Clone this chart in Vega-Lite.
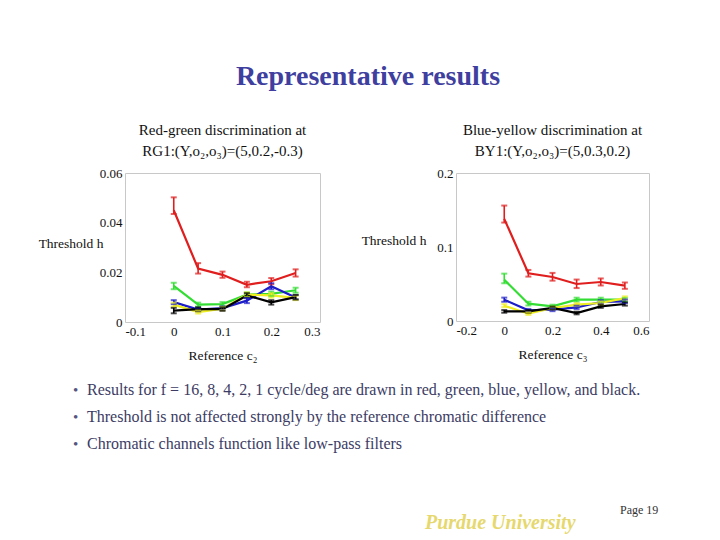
{
  "$schema": "https://vega.github.io/schema/vega-lite/v6.json",
  "background": "white",
  "padding": {"left": 30, "top": 62, "right": 5, "bottom": 5},
  "title": {"text": "Representative results", "font": "Liberation Serif", "fontSize": 28, "fontWeight": "bold", "color": "#3f3f9f", "anchor": "middle", "offset": 32, "dx": 10},
  "config": {
    "view": {"stroke": "#c8c8c8"},
    "font": "Liberation Serif",
    "axis": {"labelFont": "Liberation Serif", "labelFontSize": 13, "labelColor": "#111111", "titleFont": "Liberation Serif", "titleFontWeight": "normal", "titleFontSize": 13.5, "titleColor": "#111111", "domain": false, "ticks": false, "grid": false, "labelPadding": 3, "labelExpr": "replace(datum.label, '−', '-')"},
    "title": {"font": "Liberation Serif", "fontWeight": "normal", "fontSize": 15, "color": "#111111", "lineHeight": 21, "offset": 8},
    "concat": {"spacing": 12}
  },
  "datasets": {
    "rg": [
      {"f": "16", "c": 0, "h": 0.045, "lo": 0.0435, "hi": 0.0502},
      {"f": "16", "c": 0.05, "h": 0.0215, "lo": 0.0195, "hi": 0.0237},
      {"f": "16", "c": 0.1, "h": 0.019, "lo": 0.0178, "hi": 0.0203},
      {"f": "16", "c": 0.15, "h": 0.015, "lo": 0.014, "hi": 0.0162},
      {"f": "16", "c": 0.2, "h": 0.0164, "lo": 0.0152, "hi": 0.0177},
      {"f": "16", "c": 0.25, "h": 0.0197, "lo": 0.0183, "hi": 0.0212},
      {"f": "8", "c": 0, "h": 0.0145, "lo": 0.0132, "hi": 0.0158},
      {"f": "8", "c": 0.05, "h": 0.007, "lo": 0.0062, "hi": 0.0078},
      {"f": "8", "c": 0.1, "h": 0.0072, "lo": 0.0064, "hi": 0.008},
      {"f": "8", "c": 0.15, "h": 0.011, "lo": 0.0101, "hi": 0.0119},
      {"f": "8", "c": 0.2, "h": 0.0113, "lo": 0.0104, "hi": 0.0122},
      {"f": "8", "c": 0.25, "h": 0.0128, "lo": 0.0118, "hi": 0.0138},
      {"f": "4", "c": 0, "h": 0.008, "lo": 0.0072, "hi": 0.0088},
      {"f": "4", "c": 0.05, "h": 0.005, "lo": 0.0043, "hi": 0.0057},
      {"f": "4", "c": 0.1, "h": 0.0056, "lo": 0.0049, "hi": 0.0063},
      {"f": "4", "c": 0.15, "h": 0.0086, "lo": 0.0076, "hi": 0.0096},
      {"f": "4", "c": 0.2, "h": 0.0144, "lo": 0.0132, "hi": 0.0156},
      {"f": "4", "c": 0.25, "h": 0.0099, "lo": 0.009, "hi": 0.0108},
      {"f": "2", "c": 0, "h": 0.007, "lo": 0.0062, "hi": 0.0078},
      {"f": "2", "c": 0.05, "h": 0.004, "lo": 0.0034, "hi": 0.0046},
      {"f": "2", "c": 0.1, "h": 0.0054, "lo": 0.0047, "hi": 0.0061},
      {"f": "2", "c": 0.15, "h": 0.011, "lo": 0.0101, "hi": 0.0119},
      {"f": "2", "c": 0.2, "h": 0.0107, "lo": 0.0098, "hi": 0.0116},
      {"f": "2", "c": 0.25, "h": 0.0097, "lo": 0.0088, "hi": 0.0106},
      {"f": "1", "c": 0, "h": 0.0046, "lo": 0.0035, "hi": 0.0057},
      {"f": "1", "c": 0.05, "h": 0.0052, "lo": 0.0045, "hi": 0.0059},
      {"f": "1", "c": 0.1, "h": 0.0052, "lo": 0.0045, "hi": 0.0059},
      {"f": "1", "c": 0.15, "h": 0.0107, "lo": 0.0098, "hi": 0.0116},
      {"f": "1", "c": 0.2, "h": 0.0079, "lo": 0.007, "hi": 0.0088},
      {"f": "1", "c": 0.25, "h": 0.01, "lo": 0.0091, "hi": 0.0109}
    ],
    "by": [
      {"f": "16", "c": 0, "h": 0.138, "lo": 0.133, "hi": 0.156},
      {"f": "16", "c": 0.1, "h": 0.0645, "lo": 0.06, "hi": 0.069},
      {"f": "16", "c": 0.2, "h": 0.0595, "lo": 0.0545, "hi": 0.065},
      {"f": "16", "c": 0.3, "h": 0.05, "lo": 0.0445, "hi": 0.056},
      {"f": "16", "c": 0.4, "h": 0.0527, "lo": 0.048, "hi": 0.0575},
      {"f": "16", "c": 0.5, "h": 0.0477, "lo": 0.0435, "hi": 0.052},
      {"f": "8", "c": 0, "h": 0.0558, "lo": 0.051, "hi": 0.064},
      {"f": "8", "c": 0.1, "h": 0.0234, "lo": 0.021, "hi": 0.026},
      {"f": "8", "c": 0.2, "h": 0.0198, "lo": 0.0175, "hi": 0.022},
      {"f": "8", "c": 0.3, "h": 0.0288, "lo": 0.0262, "hi": 0.0315},
      {"f": "8", "c": 0.4, "h": 0.0288, "lo": 0.0262, "hi": 0.0315},
      {"f": "8", "c": 0.5, "h": 0.0288, "lo": 0.0262, "hi": 0.0315},
      {"f": "4", "c": 0, "h": 0.0288, "lo": 0.026, "hi": 0.0316},
      {"f": "4", "c": 0.1, "h": 0.0144, "lo": 0.0125, "hi": 0.0163},
      {"f": "4", "c": 0.2, "h": 0.0153, "lo": 0.0133, "hi": 0.0173},
      {"f": "4", "c": 0.3, "h": 0.0185, "lo": 0.0163, "hi": 0.0207},
      {"f": "4", "c": 0.4, "h": 0.0257, "lo": 0.0233, "hi": 0.0281},
      {"f": "4", "c": 0.5, "h": 0.0266, "lo": 0.0242, "hi": 0.029},
      {"f": "2", "c": 0, "h": 0.0207, "lo": 0.0187, "hi": 0.0227},
      {"f": "2", "c": 0.1, "h": 0.0099, "lo": 0.0082, "hi": 0.0116},
      {"f": "2", "c": 0.2, "h": 0.0176, "lo": 0.0158, "hi": 0.0194},
      {"f": "2", "c": 0.3, "h": 0.0221, "lo": 0.0201, "hi": 0.0241},
      {"f": "2", "c": 0.4, "h": 0.0243, "lo": 0.0222, "hi": 0.0264},
      {"f": "2", "c": 0.5, "h": 0.031, "lo": 0.0287, "hi": 0.0333},
      {"f": "1", "c": 0, "h": 0.013, "lo": 0.0112, "hi": 0.0148},
      {"f": "1", "c": 0.1, "h": 0.013, "lo": 0.0112, "hi": 0.0148},
      {"f": "1", "c": 0.2, "h": 0.0176, "lo": 0.0158, "hi": 0.0194},
      {"f": "1", "c": 0.3, "h": 0.0108, "lo": 0.009, "hi": 0.0126},
      {"f": "1", "c": 0.4, "h": 0.0198, "lo": 0.0178, "hi": 0.0218},
      {"f": "1", "c": 0.5, "h": 0.023, "lo": 0.0208, "hi": 0.0252}
    ],
    "bullets": [
      {"n": 1, "text": "Results for f = 16, 8, 4, 2, 1 cycle/deg are drawn in red, green, blue, yellow, and black."},
      {"n": 2, "text": "Threshold is not affected strongly by the reference chromatic difference"},
      {"n": 3, "text": "Chromatic channels function like low-pass filters"}
    ],
    "footer": [
      {"item": "org", "text": "Purdue University"},
      {"item": "page", "text": "Page 19"}
    ]
  },
  "vconcat": [
    {
      "hconcat": [
        {
          "width": 195,
          "height": 149,
          "title": {"text": ["Red-green discrimination at", "RG1:(Y,o₂,o₃)=(5,0.2,-0.3)"], "anchor": "middle"},
          "data": {"name": "rg"},
          "encoding": {
            "x": {"field": "c", "type": "quantitative", "scale": {"domain": [-0.1, 0.3], "nice": false}, "axis": {"values": [-0.1, 0, 0.1, 0.2, 0.3], "format": "~g", "title": "Reference c₂", "titlePadding": 10}},
            "color": {"field": "f", "type": "nominal", "scale": {"domain": ["16", "8", "4", "2", "1"], "range": ["#e01e1e", "#33dd33", "#1c1cc8", "#eeee22", "#000000"]}, "legend": null}
          },
          "layer": [
            {"mark": {"type": "line", "strokeWidth": 2.2}, "encoding": {"y": {"field": "h", "type": "quantitative", "scale": {"domain": [0, 0.06], "nice": false}, "axis": {"values": [0, 0.02, 0.04, 0.06], "format": "~g", "title": "Threshold   h", "titleAngle": 0, "titleAlign": "right", "titleBaseline": "middle", "titleX": -22, "titleY": 70}}}},
            {"mark": {"type": "rule", "strokeWidth": 1.6}, "encoding": {"y": {"field": "lo", "type": "quantitative"}, "y2": {"field": "hi"}}},
            {"mark": {"type": "tick", "orient": "horizontal", "size": 6, "thickness": 2}, "encoding": {"y": {"field": "lo", "type": "quantitative"}}},
            {"mark": {"type": "tick", "orient": "horizontal", "size": 6, "thickness": 2}, "encoding": {"y": {"field": "hi", "type": "quantitative"}}}
          ]
        },
        {
          "width": 193,
          "height": 148,
          "title": {"text": ["Blue-yellow discrimination at", "BY1:(Y,o₂,o₃)=(5,0.3,0.2)"], "anchor": "middle"},
          "data": {"name": "by"},
          "encoding": {
            "x": {"field": "c", "type": "quantitative", "scale": {"domain": [-0.2, 0.6], "nice": false}, "axis": {"values": [-0.2, 0, 0.2, 0.4, 0.6], "format": "~g", "title": "Reference c₃", "titlePadding": 10}},
            "color": {"field": "f", "type": "nominal", "scale": {"domain": ["16", "8", "4", "2", "1"], "range": ["#e01e1e", "#33dd33", "#1c1cc8", "#eeee22", "#000000"]}, "legend": null}
          },
          "layer": [
            {"mark": {"type": "line", "strokeWidth": 2.2}, "encoding": {"y": {"field": "h", "type": "quantitative", "scale": {"domain": [0, 0.2], "nice": false}, "axis": {"values": [0, 0.05, 0.1, 0.15, 0.2], "format": "~g", "title": "Threshold   h", "titleAngle": 0, "titleAlign": "right", "titleBaseline": "middle", "titleX": -30, "titleY": 67}}}},
            {"mark": {"type": "rule", "strokeWidth": 1.6}, "encoding": {"y": {"field": "lo", "type": "quantitative"}, "y2": {"field": "hi"}}},
            {"mark": {"type": "tick", "orient": "horizontal", "size": 6, "thickness": 2}, "encoding": {"y": {"field": "lo", "type": "quantitative"}}},
            {"mark": {"type": "tick", "orient": "horizontal", "size": 6, "thickness": 2}, "encoding": {"y": {"field": "hi", "type": "quantitative"}}}
          ]
        }
      ],
      "spacing": 32
    },
    {
      "width": 560,
      "height": 81,
      "view": {"stroke": null},
      "data": {"name": "bullets"},
      "encoding": {"y": {"field": "n", "type": "ordinal", "axis": null}},
      "layer": [
        {"mark": {"type": "text", "align": "left", "baseline": "middle", "font": "Liberation Serif", "fontSize": 15, "color": "#55557f", "dx": -52}, "encoding": {"x": {"value": 0}, "text": {"value": "•"}}},
        {"mark": {"type": "text", "align": "left", "baseline": "middle", "font": "Liberation Serif", "fontSize": 16, "color": "#3c3c64", "dx": -38}, "encoding": {"x": {"value": 0}, "text": {"field": "text"}}}
      ]
    },
    {
      "width": 560,
      "height": 60,
      "view": {"stroke": null},
      "data": {"name": "footer"},
      "layer": [
        {"transform": [{"filter": "datum.item === 'org'"}], "mark": {"type": "text", "align": "left", "baseline": "middle", "font": "Liberation Serif", "fontSize": 20, "fontStyle": "italic", "fontWeight": "bold", "color": "#e6d86e"}, "encoding": {"x": {"value": 300}, "y": {"value": 52}, "text": {"field": "text"}}},
        {"transform": [{"filter": "datum.item === 'page'"}], "mark": {"type": "text", "align": "left", "baseline": "middle", "font": "Liberation Serif", "fontSize": 12, "color": "#333333"}, "encoding": {"x": {"value": 495}, "y": {"value": 39}, "text": {"field": "text"}}}
      ]
    }
  ],
  "spacing": 14
}
